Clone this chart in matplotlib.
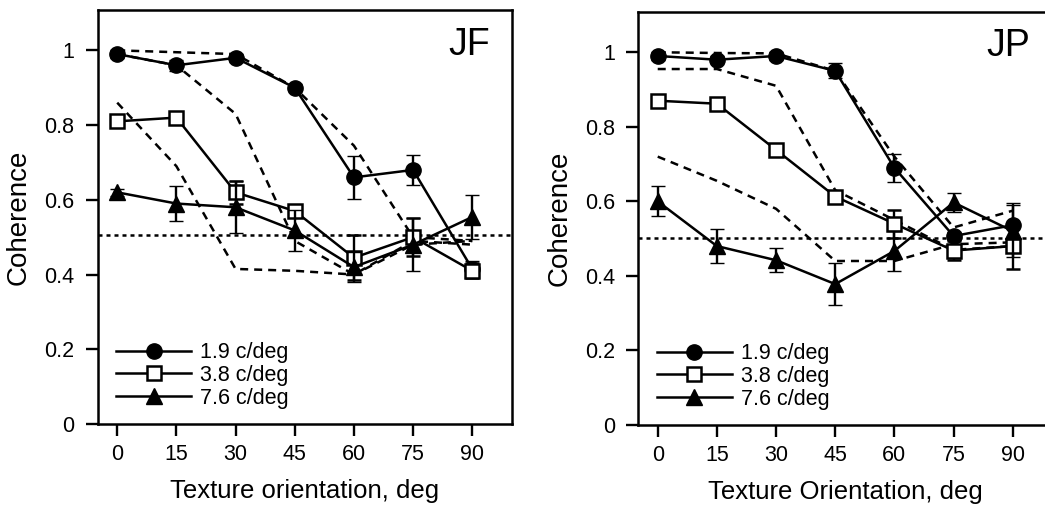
import matplotlib
matplotlib.use("Agg")
import matplotlib.pyplot as plt
from matplotlib.lines import Line2D
import numpy as np

plt.rcParams['font.family'] = ['Liberation Sans', 'DejaVu Sans']

orient = [0, 15, 30, 45, 60, 75, 90]
xticks = [0, 15, 30, 45, 60, 75, 90]
yticks = [0, 0.2, 0.4, 0.6, 0.8, 1.0]
ytick_labels = ["0", "0.2", "0.4", "0.6", "0.8", "1"]
series_labels = ["1.9 c/deg", "3.8 c/deg", "7.6 c/deg"]

# Observer JF
jf_19 = [0.99, 0.96, 0.98, 0.90, 0.66, 0.68, 0.415]
jf_19_err = [0.01, 0.015, 0.01, 0.01, 0.057, 0.04, 0.02]
jf_38 = [0.81, 0.82, 0.62, 0.57, 0.445, 0.50, 0.41]
jf_38_err = [0.01, 0.01, 0.03, 0.01, 0.06, 0.05, 0.02]
jf_76 = [0.62, 0.59, 0.58, 0.518, 0.42, 0.48, 0.554]
jf_76_err = [0.01, 0.047, 0.07, 0.056, 0.04, 0.07, 0.058]
jf_model_a = [1.0, 0.995, 0.99, 0.90, 0.745, 0.50, 0.49]
jf_model_b = [0.99, 0.96, 0.83, 0.49, 0.40, 0.49, 0.48]
jf_model_c = [0.86, 0.69, 0.415, 0.41, 0.40, 0.48, 0.49]
jf_chance = 0.505

# Observer JP
jp_19 = [0.99, 0.98, 0.99, 0.95, 0.69, 0.507, 0.536]
jp_19_err = [0.01, 0.01, 0.01, 0.02, 0.038, 0.01, 0.06]
jp_38 = [0.87, 0.862, 0.738, 0.613, 0.54, 0.468, 0.48]
jp_38_err = [0.01, 0.01, 0.01, 0.01, 0.038, 0.026, 0.062]
jp_76 = [0.60, 0.48, 0.442, 0.378, 0.467, 0.597, 0.52]
jp_76_err = [0.04, 0.045, 0.032, 0.057, 0.054, 0.025, 0.07]
jp_model_a = [1.0, 0.998, 0.997, 0.95, 0.72, 0.53, 0.575]
jp_model_b = [0.955, 0.955, 0.91, 0.63, 0.55, 0.47, 0.48]
jp_model_c = [0.72, 0.655, 0.58, 0.44, 0.44, 0.485, 0.49]
jp_chance = 0.503

fig = plt.figure(figsize=(10.45, 5.05), dpi=100)
W, H = 1045, 505
ax1 = fig.add_axes([97.5 / W, 1 - 424 / H, 414.2 / W, 414 / H])
ax2 = fig.add_axes([638 / W, 1 - 425 / H, 414.2 / W, 413 / H])

dash = (0, (3.2, 2.4))
dot = (0, (1.6, 1.6))
lw = 1.8

styles = [dict(marker='o', ms=11, mfc='black', mec='black', mew=1.0),
          dict(marker='s', ms=10, mfc='white', mec='black', mew=1.8),
          dict(marker='^', ms=11.5, mfc='black', mec='black', mew=1.0)]

def panel(ax, data, errs, models, chance, name, xlabel, namepos):
    ax.axhline(chance, color='black', lw=1.8, linestyle=dot, zorder=1)
    for m in models:
        ax.plot(orient, m, color='black', lw=1.8, linestyle=dash, zorder=2)
    handles = []
    for i, (d, e) in enumerate(zip(data, errs)):
        ax.errorbar(orient, d, yerr=e, capsize=5, elinewidth=1.7, capthick=1.7,
                    ecolor='black', lw=lw, color='black', zorder=3 + i, **styles[i])
        handles.append(Line2D([], [], color='black', lw=lw, label=series_labels[i], **styles[i]))
    ax.set_xlim(-5, 100)
    ax.set_ylim(0, 1.108)
    ax.set_xticks(xticks)
    ax.set_xticklabels([str(t) for t in xticks])
    ax.set_yticks(yticks)
    ax.set_yticklabels(ytick_labels)
    ax.tick_params(direction='out', length=8.6, width=1.7, labelsize=15.5, pad=6)
    ax.tick_params(axis='y', pad=8)
    for s in ax.spines.values():
        s.set_linewidth(1.8)
    ax.set_ylabel("Coherence", fontsize=20)
    ax.set_xlabel(xlabel, fontsize=18.5, labelpad=10)
    ax.text(namepos[0], namepos[1], name, transform=ax.transAxes, fontsize=27,
            ha='center', va='center')
    ax.legend(handles=handles, loc='lower left', bbox_to_anchor=(0.045, 0.037), frameon=False,
              fontsize=15.5, handlelength=3.5, handletextpad=0.4, labelspacing=0.08,
              borderpad=0, borderaxespad=0)

panel(ax1, [jf_19, jf_38, jf_76], [jf_19_err, jf_38_err, jf_76_err],
      [jf_model_a, jf_model_b, jf_model_c], jf_chance, "JF", "Texture orientation, deg", (0.897, 0.915))
panel(ax2, [jp_19, jp_38, jp_76], [jp_19_err, jp_38_err, jp_76_err],
      [jp_model_a, jp_model_b, jp_model_c], jp_chance, "JP", "Texture Orientation, deg", (0.893, 0.918))
ax1.yaxis.set_label_coords(-0.158, 0.5)
ax2.yaxis.set_label_coords(-0.159, 0.5)

fig.savefig("out.png", dpi=100)
